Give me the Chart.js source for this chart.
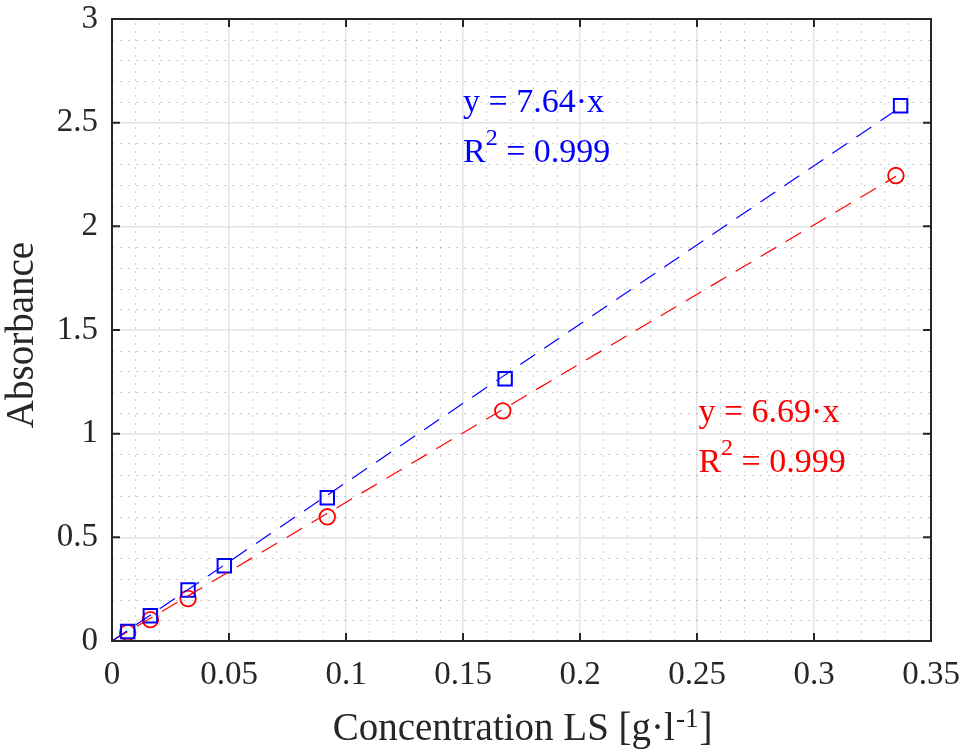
<!DOCTYPE html>
<html>
<head>
<meta charset="utf-8">
<script src="https://cdn.jsdelivr.net/npm/chart.js@4.4.1/dist/chart.umd.min.js"></script>
<style>
  body { margin: 0; background: #fff; }
  #wrap { width: 964px; height: 756px; }
</style>
</head>
<body>
<div id="wrap"><canvas id="absChart" width="964" height="756"></canvas></div>
<script>
const concBlue = [0.0067, 0.0164, 0.0325, 0.048, 0.092, 0.168, 0.337];
const absBlue = [0.046, 0.122, 0.246, 0.363, 0.691, 1.265, 2.582];
const concRed = [0.0067, 0.0164, 0.0325, 0.092, 0.167, 0.335];
const absRed = [0.040, 0.103, 0.205, 0.599, 1.110, 2.245];

// linear fits through origin (end points)
const fitBlueX = [0, 0.337];
const fitBlueY = [0, 2.575];
const fitRedX = [0, 0.335];
const fitRedY = [0, 2.241];

const xTickValues = [0, 0.05, 0.1, 0.15, 0.2, 0.25, 0.3, 0.35];
const xTickLabels = ['0', '0.05', '0.1', '0.15', '0.2', '0.25', '0.3', '0.35'];
const yTickValues = [0, 0.5, 1, 1.5, 2, 2.5, 3];
const yTickLabels = ['0', '0.5', '1', '1.5', '2', '2.5', '3'];

const xTitle = ['Concentration LS [g\u00b7l', '-1', ']'];
const yTitle = 'Absorbance';

const blueNote = { eq: 'y = 7.64\u00b7x', r2: '0.999', x: 0.150, y: 2.552, color: '#0000ff' };
const redNote = { eq: 'y = 6.69\u00b7x', r2: '0.999', x: 0.2506, y: 1.057, color: '#ff0000' };

const SERIF = '"Liberation Serif", "Times New Roman", serif';
const AXIS = '#262626';

function toPts(xs, ys) {
    return xs.map((x, i) => ({ x: x, y: ys[i] }));
}

const framePlugin = {
    id: 'frame',
    beforeDatasetsDraw(chart) {
        const { ctx, chartArea: a, scales: { x, y } } = chart;
        ctx.save();
        ctx.strokeStyle = 'rgba(0,0,0,0.2)';
        ctx.lineWidth = 1;
        ctx.setLineDash([2, 6]);
        // minor grid, x every 0.01
        for (let i = 1; i < 35; i++) {
            if (i % 5 === 0) continue;
            const px = Math.round(x.getPixelForValue(i / 100)) + 0.5;
            ctx.beginPath();
            ctx.moveTo(px, a.bottom);
            ctx.lineTo(px, a.top);
            ctx.stroke();
        }
        // minor grid, y every 0.1
        for (let i = 1; i < 30; i++) {
            if (i % 5 === 0) continue;
            const py = Math.round(y.getPixelForValue(i / 10)) + 0.5;
            ctx.beginPath();
            ctx.moveTo(a.left, py);
            ctx.lineTo(a.right, py);
            ctx.stroke();
        }
        ctx.restore();
    },
    afterDatasetsDraw(chart) {
        const { ctx, chartArea: a, scales: { x, y } } = chart;
        ctx.save();
        // box
        ctx.strokeStyle = AXIS;
        ctx.lineWidth = 2;
        ctx.strokeRect(a.left, a.top, a.right - a.left, a.bottom - a.top);
        // inward ticks on all sides
        const tl = 8;
        ctx.beginPath();
        xTickValues.forEach(v => {
            const px = x.getPixelForValue(v);
            ctx.moveTo(px, a.bottom); ctx.lineTo(px, a.bottom - tl);
            ctx.moveTo(px, a.top); ctx.lineTo(px, a.top + tl);
        });
        yTickValues.forEach(v => {
            const py = y.getPixelForValue(v);
            ctx.moveTo(a.left, py); ctx.lineTo(a.left + tl, py);
            ctx.moveTo(a.right, py); ctx.lineTo(a.right - tl, py);
        });
        ctx.stroke();

        // fit annotations
        [blueNote, redNote].forEach(n => {
            const px = x.getPixelForValue(n.x);
            const py = y.getPixelForValue(n.y);
            ctx.fillStyle = n.color;
            ctx.textBaseline = 'alphabetic';
            ctx.textAlign = 'left';
            ctx.font = '34px ' + SERIF;
            ctx.fillText(n.eq, px, py);
            const py2 = py + 50;
            ctx.fillText('R', px, py2);
            let cx = px + ctx.measureText('R').width;
            ctx.font = '24px ' + SERIF;
            ctx.fillText('2', cx, py2 - 17);
            cx += ctx.measureText('2').width;
            ctx.font = '34px ' + SERIF;
            ctx.fillText(' = ' + n.r2, cx, py2);
        });

        // axis titles
        ctx.fillStyle = AXIS;
        ctx.font = '39px ' + SERIF;
        const w1 = ctx.measureText(xTitle[0]).width;
        const w3 = ctx.measureText(xTitle[2]).width;
        ctx.font = '27px ' + SERIF;
        const w2 = ctx.measureText(xTitle[1]).width;
        const cxMid = (a.left + a.right) / 2;
        let sx = cxMid - (w1 + w2 + w3) / 2;
        const base = 740;
        ctx.font = '39px ' + SERIF;
        ctx.fillText(xTitle[0], sx, base);
        ctx.font = '27px ' + SERIF;
        ctx.fillText(xTitle[1], sx + w1 + 1, base - 13);
        ctx.font = '39px ' + SERIF;
        ctx.fillText(xTitle[2], sx + w1 + w2 + 2, base);

        ctx.translate(23, (a.top + a.bottom) / 2 + 5);
        ctx.rotate(-Math.PI / 2);
        ctx.textAlign = 'center';
        ctx.textBaseline = 'middle';
        ctx.fillText(yTitle, 0, 0);
        ctx.restore();
    }
};

new Chart(document.getElementById('absChart'), {
    type: 'scatter',
    data: {
        datasets: [
            {
                label: 'fit blue',
                data: toPts(fitBlueX, fitBlueY),
                showLine: true,
                borderColor: '#0000ff',
                borderWidth: 1.2,
                borderDash: [18, 11],
                pointRadius: 0
            },
            {
                label: 'fit red',
                data: toPts(fitRedX, fitRedY),
                showLine: true,
                borderColor: '#ff0000',
                borderWidth: 1.2,
                borderDash: [18, 11],
                pointRadius: 0
            },
            {
                label: 'LS blue',
                data: toPts(concBlue, absBlue),
                pointStyle: 'rect',
                pointRadius: 9.5,
                pointBorderWidth: 2,
                borderColor: '#0000ff',
                backgroundColor: 'rgba(0,0,0,0)'
            },
            {
                label: 'LS red',
                data: toPts(concRed, absRed),
                pointStyle: 'circle',
                pointRadius: 7.8,
                pointBorderWidth: 1.8,
                borderColor: '#ff0000',
                backgroundColor: 'rgba(0,0,0,0)'
            }
        ]
    },
    options: {
        responsive: false,
        animation: false,
        layout: { padding: { top: 19, right: 33, bottom: 0, left: 0 } },
        plugins: {
            legend: { display: false },
            tooltip: { enabled: false }
        },
        scales: {
            x: {
                type: 'linear',
                min: 0,
                max: 0.35,
                afterBuildTicks: s => { s.ticks = xTickValues.map(v => ({ value: v })); },
                afterFit: s => {
                    s.height = 115;
                    s.paddingLeft = 0;
                    s.paddingRight = 0;
                },
                ticks: {
                    callback: (v, i) => xTickLabels[i],
                    color: AXIS,
                    font: { family: SERIF, size: 33 },
                    padding: 15,
                    maxRotation: 0
                },
                grid: { color: '#e3e3e3', lineWidth: 1.5, drawTicks: false },
                border: { display: false }
            },
            y: {
                type: 'linear',
                min: 0,
                max: 3,
                afterBuildTicks: s => { s.ticks = yTickValues.map(v => ({ value: v })); },
                afterFit: s => {
                    s.width = 112;
                    s.paddingTop = 0;
                    s.paddingBottom = 0;
                },
                ticks: {
                    callback: (v, i) => yTickLabels[i],
                    color: AXIS,
                    font: { family: SERIF, size: 33 },
                    padding: 14
                },
                grid: { color: '#e3e3e3', lineWidth: 1.5, drawTicks: false },
                border: { display: false }
            }
        }
    },
    plugins: [framePlugin]
});
</script>
</body>
</html>
